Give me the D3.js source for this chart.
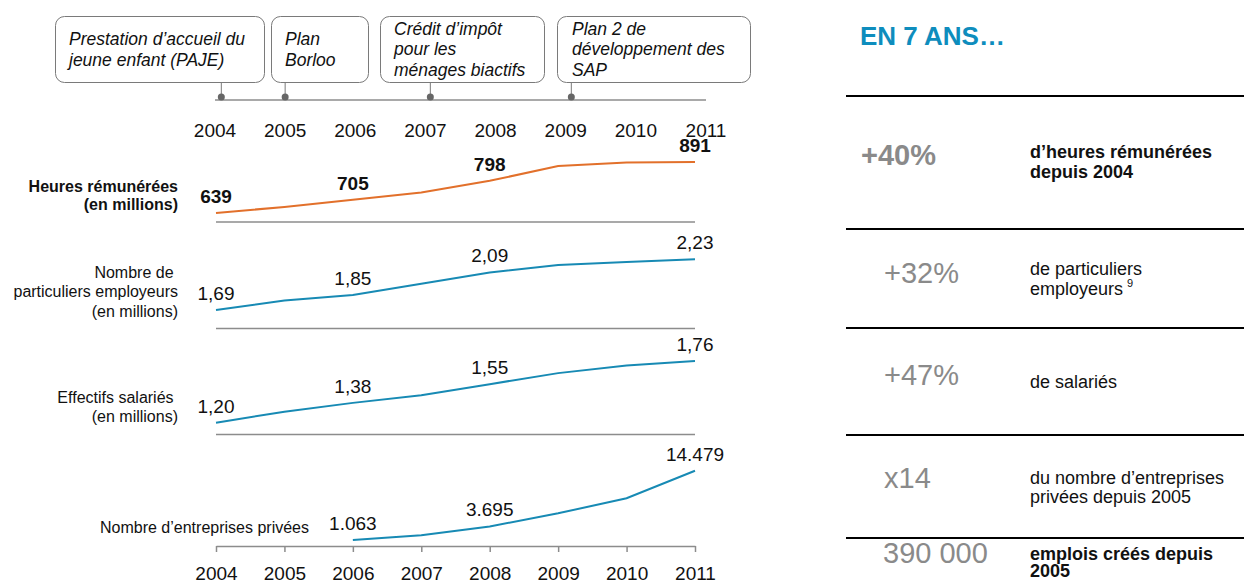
<!DOCTYPE html>
<html>
<head>
<meta charset="utf-8">
<script src="https://cdn.jsdelivr.net/npm/d3@7"></script>
<style>
    body { margin: 0; background: #fff; }
    svg { font-family: "Liberation Sans", Arial, sans-serif; display: block; }
    .pre { white-space: pre; }
</style>
</head>
<body>
<div class="wrapper"></div>
<script>
// ---- data ----
const years = [2004, 2005, 2006, 2007, 2008, 2009, 2010, 2011];
const heures = [639, 669, 705, 740, 798, 871, 889, 891];
const particuliers = [1.69, 1.79, 1.85, 1.97, 2.09, 2.17, 2.20, 2.23];
const effectifs = [1.20, 1.30, 1.38, 1.45, 1.55, 1.65, 1.72, 1.76];
const entreprises = [null, null, 1.063, 1.97, 3.695, 6.23, 9.14, 14.479];

const heuresLabels = ["639", null, "705", null, "798", null, null, "891"];
const particuliersLabels = ["1,69", null, "1,85", null, "2,09", null, null, "2,23"];
const effectifsLabels = ["1,20", null, "1,38", null, "1,55", null, null, "1,76"];
const entreprisesLabels = [null, null, "1.063", null, "3.695", null, null, "14.479"];

const eventDates = [2004.09, 2005, 2007.07, 2009.08];
const eventTexts = [
    ["Prestation d’accueil du", "jeune enfant (PAJE)"],
    ["Plan", "Borloo"],
    ["Crédit d’impôt", "pour les", "ménages biactifs"],
    ["Plan 2 de", "développement des", "SAP"]
];

const summaryValues = ["+40%", "+32%", "+47%", "x14", "390 000"];
const summaryTexts = [
    ["d’heures rémunérées", "depuis 2004"],
    ["de particuliers", "employeurs"],
    ["de salariés"],
    ["du nombre d’entreprises", "privées depuis 2005"],
    ["emplois créés depuis", "2005"]
];

// ---- layout ----
const W = 1244, H = 583;
const orange = "#e2702b", blue = "#178ab4", grey = "#8c8c8c";

const svg = d3.select(".wrapper").append("svg")
    .attr("width", W)
    .attr("height", H);

const x = d3.scaleLinear().domain([2004, 2011]).range([216, 695]);
const xTop = d3.scaleLinear().domain([2004, 2011]).range([215, 706]);

// panels: base line y, range of the line inside the panel
const panels = [
    {values: heures, labels: heuresLabels, color: orange, bold: true, base: 222, lo: 213, hi: 162,
        title: ["Heures rémunérées", "(en millions)"], titleX: 178, titleY: [192, 210], titleBold: true},
    {values: particuliers, labels: particuliersLabels, color: blue, bold: false, base: 328.5, lo: 310, hi: 259.3,
        title: ["Nombre de ", "particuliers employeurs", "(en millions)"], titleX: 178, titleY: [278, 297, 317]},
    {values: effectifs, labels: effectifsLabels, color: blue, bold: false, base: 434.5, lo: 422.7, hi: 361,
        title: ["Effectifs salariés ", "(en millions)"], titleX: 178, titleY: [403, 422]},
    {values: entreprises, labels: entreprisesLabels, color: blue, bold: false, base: 546, lo: 540, hi: 470.7,
        title: ["Nombre d’entreprises privées"], titleX: 309, titleY: [533]}
];

// ---- timeline ----
const boxes = [
    {x0: 55, x1: 264, tx: 69, ty: [45, 66]},
    {x0: 271, x1: 368, tx: 285, ty: [45, 66]},
    {x0: 380, x1: 544, tx: 394, ty: [35, 55, 76]},
    {x0: 557, x1: 750, tx: 572, ty: [35, 55, 76]}
];
const boxTop = 16, boxBottom = 82, lineY = 100;

svg.append("line")
    .attr("x1", xTop(2004)).attr("x2", xTop(2011))
    .attr("y1", lineY).attr("y2", lineY)
    .attr("stroke", grey).attr("stroke-width", 1.5);

const ev = svg.selectAll("g.event").data(eventDates).enter().append("g").attr("class", "event");
ev.append("rect")
    .attr("x", (d, i) => boxes[i].x0 + 0.5)
    .attr("y", boxTop + 0.5)
    .attr("width", (d, i) => boxes[i].x1 - boxes[i].x0)
    .attr("height", boxBottom - boxTop)
    .attr("rx", 9)
    .attr("fill", "#fff")
    .attr("stroke", "#7a7a7a");
ev.append("line")
    .attr("x1", d => xTop(d)).attr("x2", d => xTop(d))
    .attr("y1", boxBottom + 0.5).attr("y2", lineY - 3)
    .attr("stroke", "#7a7a7a");
ev.append("circle")
    .attr("cx", d => xTop(d)).attr("cy", lineY - 3)
    .attr("r", 3.5).attr("fill", "#666");
ev.each(function (d, i) {
    const g = d3.select(this);
    eventTexts[i].forEach((t, j) => {
        g.append("text")
            .attr("x", boxes[i].tx).attr("y", boxes[i].ty[j])
            .style("font-size", "17.5px").style("font-style", "italic")
            .attr("fill", "#111")
            .text(t);
    });
});

svg.append("g").selectAll("text").data(years).enter().append("text")
    .attr("x", d => xTop(d)).attr("y", 137)
    .attr("text-anchor", "middle")
    .style("font-size", "19px")
    .attr("fill", "#111")
    .text(d => d);

// ---- panels ----
panels.forEach((p, pi) => {
    const y = d3.scaleLinear().domain(d3.extent(p.values)).range([p.lo, p.hi]);
    const g = svg.append("g");

    if (pi < panels.length - 1) {
        g.append("line")
            .attr("x1", x(2004)).attr("x2", x(2011))
            .attr("y1", p.base).attr("y2", p.base)
            .attr("stroke", grey).attr("stroke-width", 1.5);
    } else {
        const axis = d3.axisBottom(x)
            .tickValues(years)
            .tickFormat(d3.format("d"))
            .tickSize(6)
            .tickSizeOuter(0)
            .tickPadding(15);
        const ax = g.append("g").attr("transform", "translate(0," + p.base + ")").call(axis);
        ax.select(".domain").attr("stroke", grey).attr("stroke-width", 1.5);
        ax.selectAll(".tick line").attr("stroke", grey).attr("stroke-width", 1.5);
        ax.selectAll(".tick text")
            .style("font-size", "19px")
            .style("font-family", "'Liberation Sans', Arial, sans-serif")
            .attr("fill", "#111");
    }

    const line = d3.line()
        .defined(d => d != null)
        .x((d, i) => x(years[i]))
        .y(d => y(d));

    g.append("path")
        .datum(p.values)
        .attr("fill", "none")
        .attr("stroke", p.color)
        .attr("stroke-width", 2)
        .attr("d", line);

    g.selectAll("text.val").data(p.labels).enter()
        .filter(d => d != null)
        .append("text")
        .attr("class", "val")
        .attr("x", (d, i) => x(years[p.labels.indexOf(d)]))
        .attr("y", d => y(p.values[p.labels.indexOf(d)]) - 10)
        .attr("text-anchor", "middle")
        .style("font-size", "19px")
        .style("font-weight", p.bold ? "bold" : "normal")
        .attr("fill", "#111")
        .text(d => d);

    p.title.forEach((t, j) => {
        g.append("text")
            .attr("class", "pre")
            .attr("x", p.titleX).attr("y", p.titleY[j])
            .attr("text-anchor", "end")
            .style("font-size", "16px")
            .style("font-weight", p.titleBold ? "bold" : "normal")
            .attr("fill", "#111")
            .text(t);
    });
});

// ---- right summary ----
svg.append("text")
    .attr("x", 860).attr("y", 45)
    .style("font-size", "26px").style("font-weight", "bold")
    .attr("fill", "#0e8dbd")
    .text("EN 7 ANS…");

const rules = [96, 229, 328, 435, 538];
svg.append("g").selectAll("line").data(rules).enter().append("line")
    .attr("x1", 846).attr("x2", W)
    .attr("y1", d => d).attr("y2", d => d)
    .attr("stroke", "#000").attr("stroke-width", 2);

const rows = [
    {vx: 861, vy: 165, bold: true, ty: [158, 178]},
    {vx: 884, vy: 283, bold: false, ty: [275, 295]},
    {vx: 884, vy: 385, bold: false, ty: [388]},
    {vx: 884, vy: 488, bold: false, ty: [484, 503]},
    {vx: 883, vy: 563, bold: true, valBold: false, ty: [560, 577]}
];

summaryValues.forEach((v, i) => {
    const r = rows[i];
    svg.append("text")
        .attr("x", r.vx).attr("y", r.vy)
        .style("font-size", "29px")
        .style("font-weight", (r.bold && r.valBold !== false) ? "bold" : "normal")
        .attr("fill", "#8a8a8a")
        .text(v);
    summaryTexts[i].forEach((t, j) => {
        const tx = svg.append("text")
            .attr("x", 1030).attr("y", r.ty[j])
            .style("font-size", "18px")
            .style("font-weight", r.bold ? "bold" : "normal")
            .attr("fill", "#111")
            .text(t);
        if (i === 1 && j === 1) {
            tx.append("tspan")
                .attr("dx", 4).attr("dy", -8)
                .style("font-size", "11px")
                .text("9");
        }
    });
});
</script>
</body>
</html>
